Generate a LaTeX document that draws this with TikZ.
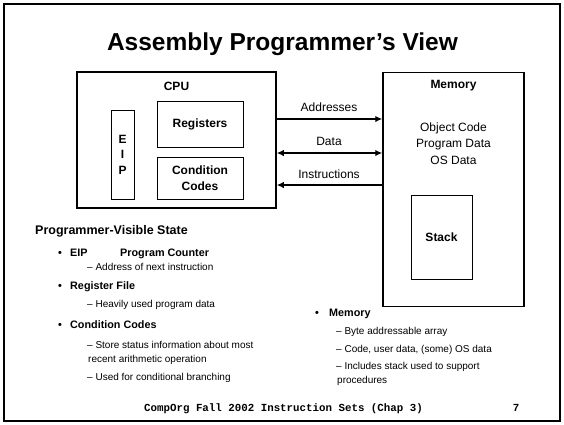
\documentclass[tikz,border=0pt]{standalone}
\usepackage{fontspec}
\setmainfont{Liberation Sans}
\newfontfamily\footmono{Liberation Mono}
\usetikzlibrary{arrows.meta}
\tikzset{
  frame/.style={draw, line width=2pt},
  bigbox/.style={draw, line width=1.5pt, inner sep=0pt},
  smallbox/.style={draw, line width=1pt, inner sep=0pt, align=center,
    font=\fontsize{12}{16}\selectfont\bfseries},
  lbl/.style={inner sep=0pt, font=\fontsize{12}{14}\selectfont\bfseries},
  txt/.style={inner sep=0pt, align=center, font=\fontsize{12}{16.5}\selectfont},
  bus/.style={line width=1.6pt, -{Latex[length=7pt,width=6.5pt]}},
  busboth/.style={line width=1.6pt, {Latex[length=7pt,width=6.5pt]}-{Latex[length=7pt,width=6.5pt]}},
  head/.style={inner sep=0pt, anchor=base west, font=\fontsize{12.5}{15}\selectfont\bfseries},
  bul/.style={inner sep=0pt, anchor=base west, font=\fontsize{10.8}{13}\selectfont\bfseries},
  sub/.style={inner sep=0pt, anchor=base west, font=\fontsize{10}{13}\selectfont},
  foot/.style={inner sep=0pt, anchor=base, font=\fontsize{10.8}{13}\footmono\bfseries}
}
\begin{document}
\begin{tikzpicture}[x=1pt,y=-1pt]
\useasboundingbox (0,0) rectangle (564,424);
\draw[frame] (4,4) rectangle (560,421);
\node[inner sep=0pt, anchor=base, font=\fontsize{24.5}{30}\selectfont\bfseries] (title) at (282.5,50) {Assembly Programmer’s View};

% CPU
\node[bigbox, minimum width=199pt, minimum height=136pt] (cpu) at (176.5,140) {};
\node[lbl] (cpulbl) at (176.5,86) {CPU};
\node[smallbox, minimum width=23pt, minimum height=89pt, font=\fontsize{12}{15.5}\selectfont\bfseries] (eip) at (122.5,154.5) {E\\I\\P};
\node[smallbox, minimum width=86pt, minimum height=46pt] (regs) at (200,124) {Registers};
\node[smallbox, minimum width=86pt, minimum height=42pt] (cc) at (200,178) {Condition\\Codes};

% Memory
\node[bigbox, minimum width=141pt, minimum height=234pt] (mem) at (453.5,189.5) {};
\node[lbl] (memlbl) at (453.5,86) {Memory};
\node[txt] (memtxt) at (453.5,143.5) {Object Code\\Program Data\\OS Data};
\node[smallbox, minimum width=61pt, minimum height=84pt] (stack) at (441.5,237) {Stack};

% buses
\coordinate (yA) at (0,119);
\coordinate (yD) at (0,153);
\coordinate (yI) at (0,185);
\draw[bus] (cpu.east |- yA) -- (mem.west |- yA);
\draw[busboth] (cpu.east |- yD) -- (mem.west |- yD);
\draw[bus] (mem.west |- yI) -- (cpu.east |- yI);
\node[txt] (la) at (329,107) {Addresses};
\node[txt] (ld) at (329,141) {Data};
\node[txt] (li) at (329,174) {Instructions};

% left text
\node[head] (pvs) at (35,234.5) {Programmer-Visible State};
\node[bul] (b1) at (58,256) {•};
\node[bul] (t1) at (70,256) {EIP};
\node[bul] (t1b) at (120,256) {Program Counter};
\node[sub] (s1) at (87,270.6) {– Address of next instruction};
\node[bul] (b2) at (58,289) {•};
\node[bul] (t2) at (70,289) {Register File};
\node[sub] (s2) at (87,307.6) {– Heavily used program data};
\node[bul] (b3) at (58,328) {•};
\node[bul] (t3) at (70,328) {Condition Codes};
\node[sub] (s3) at (87,348.6) {– Store status information about most};
\node[sub] (s3b) at (88,362.6) {recent arithmetic operation};
\node[sub] (s4) at (87,380.6) {– Used for conditional branching};

% right text
\node[bul] (b4) at (315,316) {•};
\node[bul] (t4) at (329,316) {Memory};
\node[sub] (m1) at (336,334.6) {– Byte addressable array};
\node[sub] (m2) at (336,352.1) {– Code, user data, (some) OS data};
\node[sub] (m3) at (336,369.6) {– Includes stack used to support};
\node[sub] (m3b) at (337,383.1) {procedures};

% footer
\node[foot] (ft) at (283.5,411.5) {CompOrg Fall 2002 Instruction Sets (Chap 3)};
\node[foot] (pg) at (516,411.5) {7};
\end{tikzpicture}
\end{document}
